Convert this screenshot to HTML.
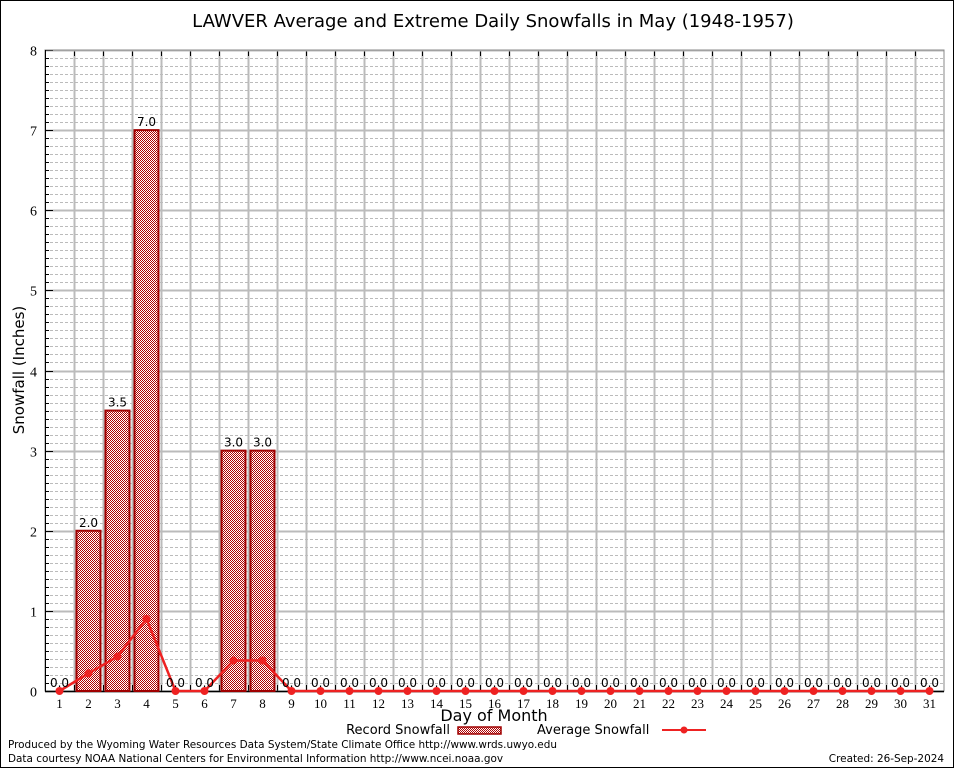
<!DOCTYPE html>
<html><head><meta charset="utf-8"><style>
body{margin:0;background:#fff;}
</style></head><body>
<svg id="chart" width="954" height="768" xmlns="http://www.w3.org/2000/svg" font-family="DejaVu Sans, Liberation Sans, sans-serif">
<defs>
<pattern id="chk" width="2" height="2" patternUnits="userSpaceOnUse">
<rect width="2" height="2" fill="#fff"/><rect width="1" height="1" fill="#b00000"/><rect x="1" y="1" width="1" height="1" fill="#b00000"/>
</pattern>
</defs>
<rect x="0.5" y="0.5" width="953" height="767" fill="#fff" stroke="#000"/>
<text x="493" y="27" font-size="18" text-anchor="middle">LAWVER Average and Extreme Daily Snowfalls in May (1948-1957)</text>
<g id="grid"></g>
<g id="bars"></g>
<g id="line"></g>
<g id="labels"></g>
<text transform="translate(24,370) rotate(-90)" font-size="15" text-anchor="middle">Snowfall (Inches)</text>
<text x="494" y="721" font-size="16" text-anchor="middle">Day of Month</text>
<g>
<text x="450" y="734" font-size="13" text-anchor="end">Record Snowfall</text>
<rect x="458" y="727" width="43" height="7" fill="url(#chk)" stroke="#a00000" stroke-width="1.5"/>
<text x="537" y="734" font-size="13">Average Snowfall</text>
<line x1="662" y1="730" x2="706" y2="730" stroke="#ee2222" stroke-width="2"/>
<circle cx="684" cy="730" r="3.5" fill="#ee2222"/>
</g>
<text x="8" y="748" font-size="10.45">Produced by the Wyoming Water Resources Data System/State Climate Office http://www.wrds.uwyo.edu</text>
<text x="8" y="762" font-size="10.45">Data courtesy NOAA National Centers for Environmental Information http://www.ncei.noaa.gov</text>
<text x="944" y="762" font-size="10.45" text-anchor="end">Created:  26-Sep-2024</text>
</svg>
<script>
const days = [1,2,3,4,5,6,7,8,9,10,11,12,13,14,15,16,17,18,19,20,21,22,23,24,25,26,27,28,29,30,31];
const recordSnow = [0,2.0,3.5,7.0,0,0,3.0,3.0,0,0,0,0,0,0,0,0,0,0,0,0,0,0,0,0,0,0,0,0,0,0,0];
const avgSnow = [0,0.22,0.43,0.9,0,0,0.38,0.38,0,0,0,0,0,0,0,0,0,0,0,0,0,0,0,0,0,0,0,0,0,0,0];
const yTicks = [0,1,2,3,4,5,6,7,8];

const NS="http://www.w3.org/2000/svg";
const L=45,R=944,T=50,B=691,yMax=8;
const step=(R-L)/days.length;
const x=d=>L+step*(d-0.5);
const y=v=>B-(v/yMax)*(B-T);
function mk(tag,attrs,parent){const e=document.createElementNS(NS,tag);for(const k in attrs)e.setAttribute(k,attrs[k]);parent.appendChild(e);return e;}
const grid=document.getElementById('grid'),bars=document.getElementById('bars'),line=document.getElementById('line'),labels=document.getElementById('labels');

for(let i=1;i<yMax*10;i++){ if(i%10===0)continue;
 const yy=Math.round(y(i/10))+0.5;
 const e=mk('line',{x1:L,x2:R,y1:yy,y2:yy,stroke:'#bbb','stroke-dasharray':'3,2'},grid);
 
 
 const t=mk('line',{x1:L,x2:L+4,y1:yy,y2:yy,stroke:'#000'},grid);
 
 
}
for(let k=1;k<days.length;k++){
 const xx=Math.round(L+step*k)+0.5;
 const e=mk('line',{x1:xx,x2:xx,y1:T,y2:B,stroke:'#bbb','stroke-width':2},grid);
 
 
 const t=mk('line',{x1:xx,x2:xx,y1:T,y2:T+6,stroke:'#000'},grid);
 
 
 const t2=mk('line',{x1:xx,x2:xx,y1:B-6,y2:B,stroke:'#000'},grid);
 
 
}
yTicks.forEach(v=>{
 const yy=Math.round(y(v))+0.5;
 const e=mk('line',{x1:L,x2:R,y1:yy,y2:yy,stroke:'#bbb','stroke-width':2},grid);
 
 
 const t=mk('line',{x1:L,x2:L+8,y1:yy,y2:yy,stroke:'#000'},grid);
 
 
 const tx=mk('text',{x:L-8,y:yy+5,'font-size':14,'text-anchor':'end','font-family':'Liberation Serif, serif'},grid);
 tx.textContent=v;
 
 
});
const fr=mk('rect',{x:L,y:T,width:R-L,height:B-T,fill:'none',stroke:'#888'},grid);


const ax=mk('line',{x1:L,x2:R,y1:B+0.5,y2:B+0.5,stroke:'#000','stroke-width':1.5},grid);


const ay=mk('line',{x1:L+0.5,x2:L+0.5,y1:T,y2:B,stroke:'#000'},grid);



days.forEach((d,i)=>{
 const v=recordSnow[i];
 if(v>0){
  const b=mk('rect',{x:x(d)-12,y:y(v),width:24,height:B-y(v),fill:'url(#chk)',stroke:'#a00000','stroke-width':2},bars);
  
  
 }
 const lt=mk('text',{x:x(d),y:y(v)-4,'font-size':12,'text-anchor':'middle'},labels);
 lt.textContent=v.toFixed(1);
 
 
 const xt=mk('text',{x:x(d),y:B+17,'font-size':13,'text-anchor':'middle','font-family':'Liberation Serif, serif'},labels);
 xt.textContent=d;
 
 
});
const pts=days.map((d,i)=>x(d)+','+y(avgSnow[i])).join(' ');
const pl=mk('polyline',{points:pts,fill:'none',stroke:'#ee2222','stroke-width':2.5},line);


days.forEach((d,i)=>{
 const c=mk('circle',{cx:x(d),cy:y(avgSnow[i]),r:4,fill:'#ee2222'},line);
 
 
});
</script>
</body></html>
